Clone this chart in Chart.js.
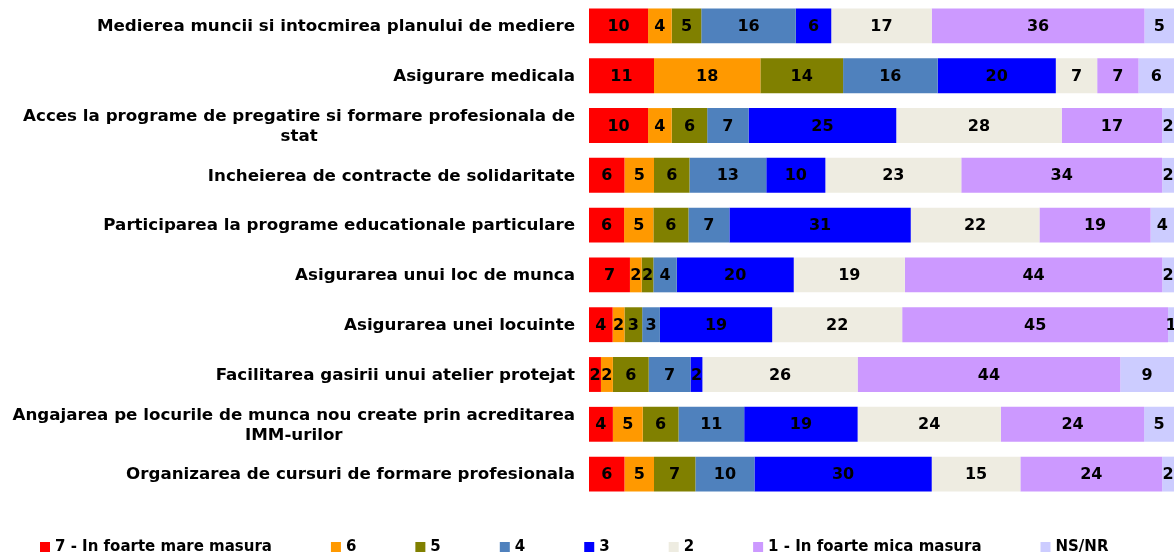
<!DOCTYPE html>
<html>
<head>
<meta charset="utf-8">
<script src="https://cdn.jsdelivr.net/npm/chart.js@4/dist/chart.umd.min.js"></script>
<style>
  html, body { margin: 0; padding: 0; background: #fff; }
  #wrap { width: 1174px; height: 552px; position: relative; }
</style>
</head>
<body>
<div id="wrap"><canvas id="measuresChart"></canvas></div>
<script>
// Categories (multi-line labels are arrays of lines)
const categories = [
  ['Medierea muncii si intocmirea planului de mediere'],
  ['Asigurare medicala'],
  ['Acces la programe de pregatire si formare profesionala de', 'stat'],
  ['Incheierea de contracte de solidaritate'],
  ['Participarea la programe educationale particulare'],
  ['Asigurarea unui loc de munca'],
  ['Asigurarea unei locuinte'],
  ['Facilitarea gasirii unui atelier protejat'],
  ['Angajarea pe locurile de munca nou create prin acreditarea', 'IMM-urilor'],
  ['Organizarea de cursuri de formare profesionala']
];

// Series labels (legend)
const seriesNames = ['7 - In foarte mare masura', '6', '5', '4', '3', '2', '1 - In foarte mica masura', 'NS/NR'];

// Values (%) per answer, one entry per category
const s7 = [10, 11, 10, 6, 6, 7, 4, 2, 4, 6];
const s6 = [4, 18, 4, 5, 5, 2, 2, 2, 5, 5];
const s5 = [5, 14, 6, 6, 6, 2, 3, 6, 6, 7];
const s4 = [16, 16, 7, 13, 7, 4, 3, 7, 11, 10];
const s3 = [6, 20, 25, 10, 31, 20, 19, 2, 19, 30];
const s2 = [17, 7, 28, 23, 22, 19, 22, 26, 24, 15];
const s1 = [36, 7, 17, 34, 19, 44, 45, 44, 24, 24];
const sNs = [5, 6, 2, 2, 4, 2, 1, 9, 5, 2];

const seriesValues = [s7, s6, s5, s4, s3, s2, s1, sNs];
const colors = ['#FF0000', '#FF9900', '#808000', '#4F81BD', '#0000FF', '#EEECE1', '#CC99FF', '#CCCCFF'];

// bars are 100% stacked, so scale each row by its total
const rowTotals = categories.map((c, i) => seriesValues.reduce((s, arr) => s + arr[i], 0));

const FONT = '"DejaVu Sans", "Liberation Sans", Arial, sans-serif';

// draws the category labels (right aligned, wrapped lines centred like the original)
const categoryLabels = {
  id: 'categoryLabels',
  afterDraw(chart) {
    const ctx = chart.ctx;
    const yScale = chart.scales.y;
    const right = yScale.right - 14;
    ctx.save();
    ctx.font = 'bold 16.7px ' + FONT;
    ctx.fillStyle = '#000';
    ctx.textBaseline = 'middle';
    ctx.textAlign = 'center';
    const lineH = 20;
    categories.forEach((lines, i) => {
      const y = yScale.getPixelForValue(i) + 1;
      const widest = Math.max(...lines.map(l => ctx.measureText(l).width));
      const cx = right - widest / 2;
      const y0 = y - (lines.length - 1) * lineH / 2;
      lines.forEach((l, k) => ctx.fillText(l, cx, y0 + k * lineH));
    });
    ctx.restore();
  }
};

// value labels in the middle of each segment
const valueLabels = {
  id: 'valueLabels',
  afterDatasetsDraw(chart) {
    const ctx = chart.ctx;
    ctx.save();
    ctx.font = 'bold 16px ' + FONT;
    ctx.fillStyle = '#000';
    ctx.textAlign = 'center';
    ctx.textBaseline = 'middle';
    chart.data.datasets.forEach((ds, di) => {
      chart.getDatasetMeta(di).data.forEach((el, i) => {
        ctx.fillText(String(seriesValues[di][i]), (el.x + el.base) / 2, el.y + 1);
      });
    });
    ctx.restore();
  }
};

// legend along the bottom
const bottomLegend = {
  id: 'bottomLegend',
  afterDraw(chart) {
    const ctx = chart.ctx;
    ctx.save();
    ctx.font = 'bold 15px ' + FONT;
    ctx.textBaseline = 'middle';
    ctx.textAlign = 'left';
    let x = 40;
    const y = 547;
    chart.data.datasets.forEach(ds => {
      ctx.fillStyle = ds.backgroundColor;
      ctx.fillRect(x, y - 5, 10, 10);
      ctx.fillStyle = '#000';
      ctx.fillText(ds.label, x + 15, y);
      x += 15 + ctx.measureText(ds.label).width + 59;
    });
    ctx.restore();
  }
};

const datasets = seriesValues.map((vals, k) => ({
  label: seriesNames[k],
  data: vals.map((v, i) => v / rowTotals[i] * 100),
  backgroundColor: colors[k],
  borderWidth: 0,
  barPercentage: 0.7,
  categoryPercentage: 1.0
}));

const config = {
  type: 'bar',
  data: { labels: categories, datasets: datasets },
  options: {
    indexAxis: 'y',
    responsive: false,
    animation: false,
    layout: { padding: { top: 1, bottom: 53, left: 0, right: 0 } },
    plugins: {
      legend: { display: false },
      tooltip: { enabled: false }
    },
    scales: {
      x: {
        stacked: true,
        min: 0,
        max: 100,
        display: false
      },
      y: {
        stacked: true,
        grid: { display: false },
        border: { display: false },
        ticks: { display: false },
        afterFit(scale) { scale.width = 589; }
      }
    }
  },
  plugins: [categoryLabels, valueLabels, bottomLegend]
};

const canvas = document.getElementById('measuresChart');
canvas.width = 1174;
canvas.height = 552;
const myChart = new Chart(canvas, config);
</script>
</body>
</html>
